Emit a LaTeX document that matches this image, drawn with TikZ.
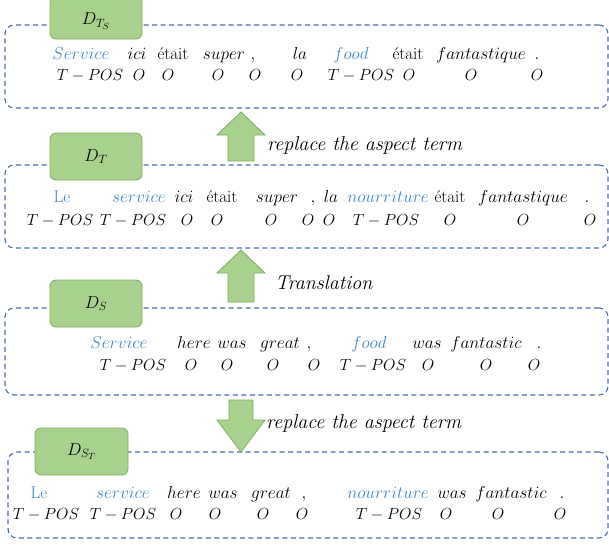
\documentclass[tikz,border=0pt]{standalone}
\usepackage{fontspec}
\definecolor{gfill}{HTML}{A9D18E}
\definecolor{gborder}{HTML}{7DAF5C}
\definecolor{dashc}{HTML}{4A6FAE}
\definecolor{wblue}{HTML}{3E86CB}
\newcommand{\bw}[1]{\textcolor{wblue}{$#1$}}
\newcommand{\bu}[1]{\textcolor{wblue}{#1}}
\newcommand{\tpos}{\scalebox{0.93}{$T-POS$}}
\newcommand{\oo}{\scalebox{0.93}{$O$}}
\tikzset{
  wd/.style={anchor=base, inner sep=0pt, font=\fontsize{17}{20}\selectfont},
  tg/.style={anchor=base, inner sep=0pt, font=\fontsize{17}{20}\selectfont},
  dbox/.style={draw=dashc, dash pattern=on 5pt off 3.5pt, line width=1.1pt, rounded corners=9pt, inner sep=0pt},
  lab/.style={draw=gborder, fill=gfill, line width=0.8pt, rounded corners=6pt, inner sep=0pt, minimum width=92pt, font=\fontsize{18}{21}\selectfont},
  barrow/.style={draw=gborder, fill=gfill, line width=0.8pt},
  capt/.style={anchor=west, inner sep=0pt, font=\fontsize{20}{24}\selectfont}
}
\begin{document}
\begin{tikzpicture}[x=1pt, y=-1pt]
\useasboundingbox (0,0) rectangle (609,544);
% dashed boxes
\node[dbox, minimum width=603pt, minimum height=83pt] (b1) at (306.5,66.5) {};
\node[dbox, minimum width=603pt, minimum height=83pt] (b2) at (306.5,206.5) {};
\node[dbox, minimum width=603pt, minimum height=87pt] (b3) at (306.5,351.5) {};
\node[dbox, minimum width=600pt, minimum height=86pt] (b4) at (308,495) {};
% labels
\node[lab, minimum height=43pt] (l1) at (96,17.5) {};
\node[font=\fontsize{18}{21}\selectfont] (l1t) at (96,21) {$D_{T_S}$};
\node[lab, minimum height=47pt] (l2) at (96,156.5) {$D_T$};
\node[lab, minimum height=47pt] (l3) at (96,303.5) {$D_S$};
\node[lab, minimum height=47pt, minimum width=93pt] (l4) at (81.5,451.5) {$D_{S_T}$};
% block arrows
\draw[barrow] (241,112) -- (265,135) -- (254,135) -- (254,161) -- (228,161) -- (228,135) -- (217,135) -- cycle;
\draw[barrow] (241,250) -- (265,273) -- (254,273) -- (254,302) -- (228,302) -- (228,273) -- (217,273) -- cycle;
\draw[barrow] (241,452) -- (265,420) -- (253,420) -- (253,400) -- (229,400) -- (229,420) -- (217,420) -- cycle;
\node[capt] (c1) at (267,145) {\textit{replace the aspect term}};
\node[capt] (c2) at (275,283) {\textit{Translation}};
\node[capt] (c3) at (266,423) {\textit{replace the aspect term}};
% row 1
\foreach \px/\tx [count=\i] in {81/\bw{Service}, 137/$ici$, 173/était, 224/$super$, 253/{$,$}, 300/$la$, 351/\bw{food}, 408/était, 481/$fantastique$, 537/$.$}
  \node[wd] (wa\i) at (\px,59) {\tx};
\foreach \px/\tx [count=\i] in {90/\tpos, 139/\oo, 168/\oo, 218/\oo, 255/\oo, 297/\oo, 361/\tpos, 409/\oo, 471/\oo, 537/\oo}
  \node[tg] (ta\i) at (\px,80) {\tx};
% row 2
\foreach \px/\tx [count=\i] in {62/\bu{Le}, 139/\bw{service}, 184/$ici$, 222/était, 277/$super$, 313/{$,$}, 331/$la$, 388/\bw{nourriture}, 450/était, 523/$fantastique$, 587/$.$}
  \node[wd] (wb\i) at (\px,202) {\tx};
\foreach \px/\tx [count=\i] in {60/\tpos, 133/\tpos, 187/\oo, 217/\oo, 271/\oo, 308/\oo, 329/\oo, 386/\tpos, 450/\oo, 523/\oo, 590/\oo}
  \node[tg] (tb\i) at (\px,225) {\tx};
% row 3
\foreach \px/\tx [count=\i] in {119/\bw{Service}, 194/$here$, 232/$was$, 280/$great$, 309/{$,$}, 369/\bw{food}, 427/$was$, 486/$fantastic$, 539/$.$}
  \node[wd] (wc\i) at (\px,348) {\tx};
\foreach \px/\tx [count=\i] in {133/\tpos, 191/\oo, 227/\oo, 273/\oo, 314/\oo, 373/\tpos, 428/\oo, 486/\oo, 534/\oo}
  \node[tg] (tc\i) at (\px,370) {\tx};
% row 4
\foreach \px/\tx [count=\i] in {39/\bu{Le}, 123/\bw{service}, 184/$here$, 223/$was$, 271/$great$, 304/{$,$}, 388/\bw{nourriture}, 452/$was$, 511/$fantastic$, 562/$.$}
  \node[wd] (wd\i) at (\px,498) {\tx};
\foreach \px/\tx [count=\i] in {46/\tpos, 123/\tpos, 176/\oo, 215/\oo, 263/\oo, 302/\oo, 389/\tpos, 446/\oo, 498/\oo, 560/\oo}
  \node[tg] (td\i) at (\px,519) {\tx};
\end{tikzpicture}
\end{document}
